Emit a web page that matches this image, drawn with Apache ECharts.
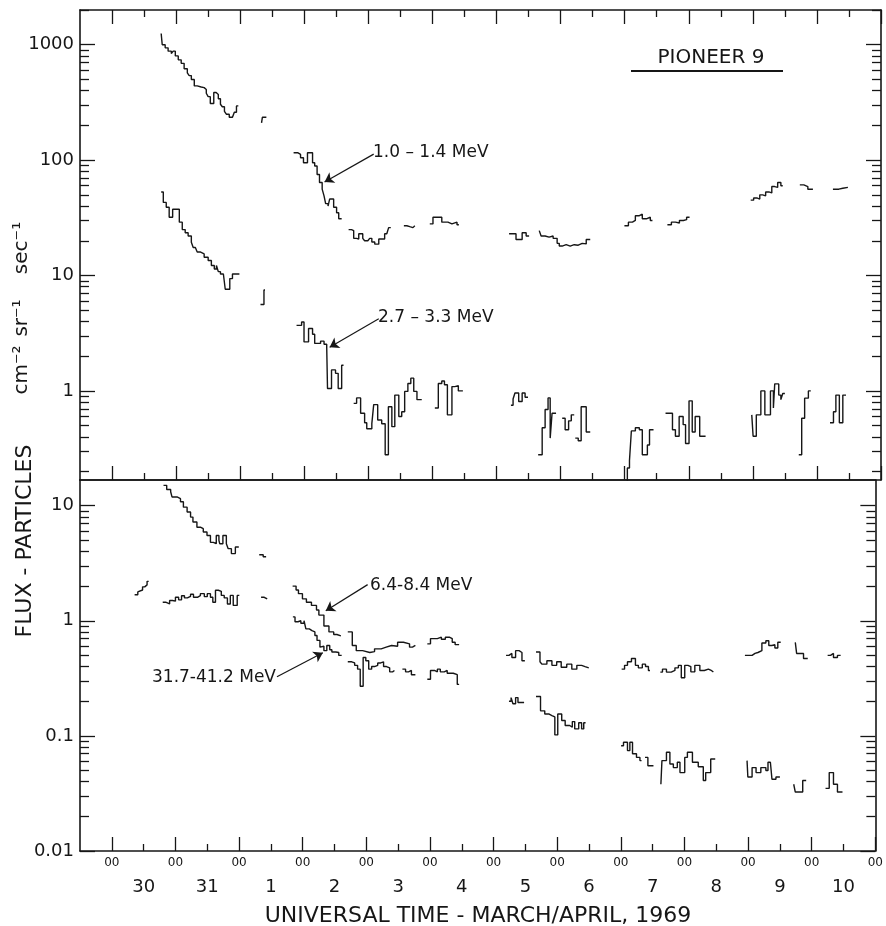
<!DOCTYPE html>
<html>
<head>
<meta charset="utf-8">
<title>Pioneer 9 - particle flux, March/April 1969</title>
<script src="https://cdn.jsdelivr.net/npm/echarts@6.0.0/dist/echarts.min.js"></script>
<style>
  html, body { margin: 0; padding: 0; background: #fff; }
  #flux_chart { width: 886px; height: 926px; }
</style>
</head>
<body>
<div id="flux_chart"></div>
<script>
// time is in hours from 00 UT, 30 March 1969; each segment is a run of
// [hour, flux] steps, the last pair closes the final step
const flux1to14 = [
  [[18.4,1250],[18.8,1000],[19.9,940],[21.0,880],[22.2,840],[22.9,880],[23.7,800],[24.8,740],[25.9,690],[27.0,620],[28.2,570],[28.9,540],[29.7,500],[30.8,440],[31.9,430],[33.4,425],[34.5,410],[35.3,380],[36.0,355],[36.8,310],[38.1,385],[39.0,370],[39.8,340],[40.6,305],[41.3,290],[42.1,265],[42.8,250],[43.9,235],[45.1,230],[45.8,260],[46.6,295],[47.3,295]],
  [[56.0,210],[56.3,235],[57.8,235]],
  [[68.0,116],[69.5,112],[70.6,105],[71.7,95],[73.2,116],[75.1,95],[75.9,89],[76.8,75],[77.7,64],[78.7,56],[79.4,49],[80.0,42],[80.9,40],[81.5,46],[83.0,39],[84.1,35],[84.9,31],[86.0,31]],
  [[88.6,25],[89.7,24.5],[90.5,21],[91.6,20.7],[92.4,23],[93.9,21],[94.6,20],[95.8,19.7],[96.5,21],[97.3,19.5],[98.4,18.7],[99.9,20.7],[102.1,23],[102.9,23.6],[103.6,26],[104.4,26]],
  [[109.3,27],[110.4,26.5],[111.5,26],[112.7,27],[113.4,27]],
  [[119.0,28],[120.2,32],[123.5,29],[125.8,28],[127.3,29],[129.2,27.5],[129.9,27.5]],
  [[148.7,23],[151.3,20.5],[153.6,23.5],[155.1,22],[156.2,22]],
  [[160.0,24.5],[160.7,22],[162.2,21.5],[163.7,22],[165.2,21],[166.7,19],[167.5,18],[168.6,18.5],[170.1,18],[171.6,18.5],[173.1,18.3],[174.6,19],[176.1,18.8],[177.6,20.5],[179.1,20.5]],
  [[191.9,27],[193.4,29],[194.9,30],[196.0,33],[197.5,34],[198.6,31],[200.1,32],[201.6,30],[202.4,30]],
  [[208.0,27.5],[209.5,29],[211.0,28.5],[212.5,30],[214.0,30.5],[215.2,32],[216.3,32]],
  [[239.2,45],[240.3,47],[241.5,46],[242.6,50],[243.7,49],[244.8,53],[246.0,52],[247.1,59],[248.2,58],[249.3,64],[250.5,60],[251.2,60]],
  [[257.6,61],[259.1,59],[260.6,56],[262.5,56]],
  [[270.0,56],[272.2,57],[273.7,58],[275.6,58]]
];

const flux27to33 = [
  [[18.4,53],[19.2,43],[20.3,39],[21.4,32],[22.7,37.5],[25.2,29],[26.3,25],[27.4,23.5],[28.5,22],[29.7,19.4],[30.4,17.5],[31.2,17],[31.9,16],[33.0,15.4],[34.5,14.4],[36.0,13.5],[37.2,12.2],[38.3,11.4],[39.1,12.2],[39.8,10.8],[40.6,10.3],[41.7,10],[42.4,7.6],[44.1,9.4],[45.1,10.3],[47.7,10.3]],
  [[55.6,5.6],[56.9,7.5],[57.3,7.5]],
  [[69.1,3.7],[71.0,3.96],[71.9,2.66],[73.6,3.47],[75.1,3.1],[75.9,2.58],[78.1,2.7],[79.4,2.54],[80.4,2.4],[80.7,1.05],[82.2,1.52],[83.7,1.42],[84.7,1.05],[86.0,1.67],[86.7,1.67]],
  [[90.5,0.78],[91.6,0.87],[93.1,0.64],[94.6,0.53],[95.4,0.47],[97.3,0.52],[98.0,0.76],[99.5,0.56],[101.0,0.52],[102.3,0.28],[103.5,0.73],[104.8,0.49],[105.9,0.92],[107.4,0.60],[108.5,0.66],[109.6,0.99],[110.8,1.16],[111.9,1.29],[113.0,0.99],[114.2,0.84],[116.0,0.84]],
  [[120.9,0.71],[122.2,1.16],[123.5,1.22],[124.5,1.13],[125.6,0.62],[127.3,1.09],[128.4,1.11],[129.7,1.0],[131.4,1.0]],
  [[149.4,0.75],[150.2,0.85],[150.9,0.96],[152.3,0.81],[153.6,0.96],[154.7,0.88],[155.8,0.88]],
  [[159.6,0.28],[161.1,0.48],[162.2,0.69],[163.3,0.87],[164.1,0.39],[164.8,0.64],[166.3,0.64]],
  [[168.6,0.58],[169.7,0.46],[171.0,0.55],[172.0,0.62],[173.1,0.62]],
  [[173.5,0.39],[174.6,0.37],[175.7,0.73],[177.6,0.44],[179.1,0.44]],
  [[191.9,0.15],[193.0,0.215],[193.8,0.25],[194.5,0.45],[196.0,0.48],[197.5,0.46],[198.6,0.28],[200.5,0.34],[201.3,0.46],[202.8,0.46]],
  [[207.3,0.64],[209.9,0.46],[211.0,0.405],[212.4,0.6],[213.9,0.51],[214.8,0.35],[216.1,0.82],[217.3,0.44],[218.4,0.6],[220.1,0.405],[222.3,0.405]],
  [[239.6,0.62],[240.1,0.405],[241.3,0.62],[243.0,1.0],[244.5,0.62],[246.6,1.0],[247.7,0.71],[248.2,1.15],[249.7,0.92],[250.5,0.84],[251.2,0.95],[252.0,0.95]],
  [[257.2,0.28],[258.3,0.58],[259.4,0.865],[260.8,1.0],[261.7,1.0]],
  [[268.9,0.53],[270.2,0.66],[271.1,0.92],[272.4,0.53],[273.7,0.92],[274.9,0.92]]
];

const flux64to84 = [
  [[19.5,15],[20.7,13.8],[22.2,13.2],[22.7,11.9],[24.6,11.5],[25.9,10.8],[27.0,9.7],[28.4,8.8],[29.7,7.95],[30.6,7.2],[32.1,6.5],[33.4,6.3],[34.5,5.9],[35.9,5.5],[37.2,4.8],[38.3,4.67],[39.4,5.5],[40.4,5.0],[40.7,4.67],[41.9,5.5],[43.2,4.67],[43.9,4.23],[45.1,3.83],[46.6,4.37],[47.9,4.37]],
  [[55.6,3.75],[57.1,3.6],[58.2,3.6]],
  [[68.2,2.0],[69.5,1.85],[70.4,1.72],[71.9,1.55],[73.4,1.45],[75.3,1.36],[77.2,1.24],[78.1,1.12],[80.0,0.9],[81.9,0.8],[83.7,0.76],[84.9,0.74],[86.4,0.74]],
  [[89.0,0.8],[90.7,0.61],[92.2,0.55],[94.6,0.53],[97.3,0.54],[99.1,0.57],[101.6,0.59],[103.5,0.61],[105.5,0.6],[107.8,0.65],[110.0,0.63],[112.3,0.59],[113.4,0.61],[114.5,0.61]],
  [[119.0,0.63],[120.2,0.70],[122.8,0.72],[124.3,0.69],[125.8,0.72],[127.3,0.70],[128.4,0.65],[129.5,0.62],[131.0,0.62]],
  [[148.7,0.50],[149.8,0.52],[150.9,0.48],[152.3,0.55],[153.6,0.53],[154.7,0.45],[155.8,0.45]],
  [[160.0,0.535],[161.5,0.44],[162.2,0.42],[164.1,0.45],[166.0,0.41],[167.8,0.44],[169.5,0.395],[171.6,0.42],[173.5,0.38],[175.4,0.41],[177.2,0.40],[178.5,0.39],[179.9,0.39]],
  [[192.3,0.38],[193.4,0.41],[194.5,0.44],[196.0,0.47],[197.5,0.41],[198.6,0.39],[200.1,0.42],[201.3,0.40],[202.4,0.37],[203.0,0.37]],
  [[206.9,0.358],[207.7,0.38],[209.2,0.358],[211.0,0.37],[212.4,0.39],[213.7,0.41],[214.8,0.32],[216.1,0.41],[217.3,0.40],[218.4,0.36],[219.9,0.41],[221.8,0.37],[223.5,0.38],[225.0,0.37],[226.1,0.36],[226.9,0.36]],
  [[238.8,0.50],[241.5,0.52],[242.6,0.53],[243.7,0.55],[245.2,0.64],[246.7,0.67],[247.8,0.61],[249.0,0.62],[250.1,0.58],[251.2,0.65],[252.3,0.65]],
  [[257.8,0.65],[258.3,0.52],[260.9,0.47],[262.5,0.47]],
  [[270.0,0.50],[271.1,0.52],[272.2,0.48],[273.7,0.50],[274.9,0.50]]
];

const flux317to412 = [
  [[8.6,1.68],[9.8,1.78],[10.5,1.85],[11.6,1.97],[12.4,2.05],[13.3,2.2],[13.9,2.2]],
  [[19.2,1.45],[20.3,1.40],[21.8,1.50],[22.9,1.48],[24.0,1.60],[25.2,1.52],[26.3,1.65],[27.4,1.58],[28.5,1.63],[29.7,1.70],[30.8,1.60],[32.3,1.65],[33.4,1.72],[34.9,1.62],[36.0,1.72],[37.2,1.60],[38.1,1.45],[39.1,1.84],[40.2,1.80],[41.3,1.66],[42.4,1.58],[43.6,1.40],[44.7,1.66],[45.8,1.36],[47.3,1.66],[48.1,1.66]],
  [[56.3,1.6],[57.5,1.55],[58.6,1.55]],
  [[68.3,1.08],[69.1,0.98],[70.2,1.00],[71.3,0.95],[72.5,1.00],[73.2,0.85],[74.5,0.82],[75.5,0.80],[76.6,0.745],[77.4,0.675],[78.5,0.59],[79.2,0.60],[80.0,0.55],[81.1,0.61],[82.2,0.56],[83.0,0.535],[84.5,0.53],[85.6,0.50],[86.7,0.50]],
  [[89.0,0.44],[90.5,0.43],[91.6,0.41],[92.7,0.38],[93.7,0.27],[94.8,0.48],[95.8,0.45],[96.9,0.38],[98.0,0.40],[99.1,0.41],[100.3,0.43],[101.4,0.44],[102.5,0.40],[103.6,0.39],[104.8,0.36],[105.9,0.37],[106.6,0.37]],
  [[109.6,0.38],[110.8,0.36],[111.9,0.37],[113.0,0.34],[114.5,0.34]],
  [[119.0,0.31],[120.2,0.37],[121.7,0.36],[122.8,0.38],[123.9,0.36],[125.4,0.37],[126.5,0.35],[128.8,0.34],[130.3,0.28],[131.0,0.28]],
  [[149.8,0.20],[150.6,0.215],[151.3,0.19],[152.3,0.215],[153.2,0.195],[155.5,0.195]],
  [[160.0,0.22],[161.7,0.165],[163.3,0.155],[164.8,0.15],[166.0,0.146],[167.1,0.102],[168.2,0.155],[169.7,0.136],[171.0,0.123],[172.7,0.119],[173.7,0.133],[174.6,0.115],[176.1,0.13],[177.2,0.115],[178.0,0.13],[178.7,0.13]],
  [[192.1,0.082],[193.0,0.088],[194.5,0.0745],[195.4,0.088],[196.4,0.07],[197.9,0.065],[199.2,0.061],[199.8,0.061]],
  [[201.1,0.065],[202.2,0.055],[204.3,0.055]],
  [[207.1,0.038],[207.5,0.061],[209.2,0.072],[210.5,0.057],[211.8,0.053],[213.3,0.059],[214.3,0.048],[216.1,0.065],[217.1,0.072],[219.0,0.059],[221.2,0.054],[223.1,0.041],[224.0,0.048],[225.9,0.063],[227.6,0.063]],
  [[239.6,0.061],[239.9,0.044],[241.5,0.053],[243.0,0.048],[244.8,0.053],[246.7,0.05],[247.5,0.059],[248.4,0.061],[249.0,0.042],[250.5,0.044],[252.0,0.044]],
  [[257.2,0.038],[257.8,0.0325],[260.6,0.041],[261.9,0.041]],
  [[269.2,0.035],[270.6,0.048],[272.2,0.038],[273.7,0.0325],[275.6,0.0325]]
];

const midnightHours = [0, 24, 48, 72, 96, 120, 144, 168, 192, 216, 240, 264, 288];
const noonHours = [12, 36, 60, 84, 108, 132, 156, 180, 204, 228, 252, 276];
const dayLabels = ['30', '31', '1', '2', '3', '4', '5', '6', '7', '8', '9', '10'];
const topDecades = [1, 10, 100, 1000];
const bottomDecades = [0.01, 0.1, 1, 10];

const INK = '#161616';
const FONT = '"DejaVu Sans", "Liberation Sans", sans-serif';

// one step line per band, with a break between the runs
function joinRuns(runs) {
    const out = [];
    runs.forEach(function (run, i) {
        if (i > 0) {
            const prev = runs[i - 1];
            out.push([prev[prev.length - 1][0], null]);
        }
        run.forEach(function (p) { out.push(p); });
    });
    return out;
}

function minorTicks(decades) {
    const out = [];
    decades.concat([decades[0] / 10]).forEach(function (d) {
        for (let k = 2; k <= 9; k++) out.push(+(d * k).toPrecision(3));
    });
    return out;
}

function timeAxis(gridIndex, position, ticks, len, label, lineShow) {
    return {
        type: 'value', gridIndex: gridIndex, position: position,
        min: -12, max: 288,
        axisLine: { show: lineShow, onZero: false, lineStyle: { color: INK, width: 1.6 } },
        axisTick: ticks ? { show: true, inside: true, length: len, customValues: ticks,
                            lineStyle: { color: INK, width: 1.3 } } : { show: false },
        axisLabel: label || { show: false },
        splitLine: { show: false }
    };
}

function fluxAxis(gridIndex, position, min, max, ticks, len, withLabels, lineShow) {
    return {
        type: 'log', logBase: 10, gridIndex: gridIndex, position: position,
        min: min, max: max,
        axisLine: { show: lineShow, onZero: false, lineStyle: { color: INK, width: 1.6 } },
        axisTick: { show: true, inside: true, length: len, customValues: ticks,
                    lineStyle: { color: INK, width: 1.3 } },
        axisLabel: withLabels ? {
            show: true, customValues: ticks, margin: 6,
            color: INK, fontFamily: FONT, fontSize: 18,
            formatter: function (v) { return String(v); }
        } : { show: false },
        minorTick: { show: false },
        splitLine: { show: false }
    };
}

function arrow(from, to) {
    return [{ coord: from, symbol: 'none' }, { coord: to, symbol: 'arrow' }];
}

function band(runs, xi, yi, arrows) {
    return {
        type: 'line', xAxisIndex: xi, yAxisIndex: yi,
        data: joinRuns(runs), step: 'end',
        symbol: 'none', showSymbol: false, connectNulls: false,
        lineStyle: { color: INK, width: 1.4 },
        markLine: {
            silent: true, symbolSize: 9, label: { show: false },
            lineStyle: { color: INK, width: 1.2, type: 'solid' },
            data: arrows
        }
    };
}

function vText(text, x, y, size) {
    return {
        type: 'text', x: x, y: y, rotation: Math.PI / 2,
        style: { text: text, x: 0, y: 0, align: 'center', verticalAlign: 'middle',
                 font: size + 'px ' + FONT, fill: INK }
    };
}

function hText(text, x, y, size, align) {
    return {
        type: 'text', x: x, y: y,
        style: { text: text, x: 0, y: 0, align: align || 'left', verticalAlign: 'middle',
                 font: size + 'px ' + FONT, fill: INK }
    };
}

const option = {
    animation: false,
    backgroundColor: '#fff',
    grid: [
        { left: 80, top: 10, width: 801, height: 470 },
        { left: 80, top: 480, width: 801, height: 371 }
    ],
    xAxis: [
        timeAxis(0, 'bottom', midnightHours, 14, null, true),
        timeAxis(0, 'bottom', noonHours, 7, null, false),
        timeAxis(0, 'top', midnightHours, 14, null, true),
        timeAxis(0, 'top', noonHours, 7, null, false),
        timeAxis(1, 'bottom', midnightHours, 14, {
            show: true, customValues: midnightHours, margin: 6,
            color: INK, fontFamily: FONT, fontSize: 12,
            formatter: function () { return '00'; }
        }, true),
        timeAxis(1, 'bottom', noonHours, 7, {
            show: true, customValues: noonHours, margin: 27,
            color: INK, fontFamily: FONT, fontSize: 18,
            formatter: function (v) { return dayLabels[Math.round((v - 12) / 24)]; }
        }, false),
        timeAxis(1, 'top', null, 0, null, true)
    ],
    yAxis: [
        fluxAxis(0, 'left', 0.169, 2000, topDecades, 15, true, true),
        fluxAxis(0, 'left', 0.169, 2000, minorTicks(topDecades), 9, false, false),
        fluxAxis(0, 'right', 0.169, 2000, topDecades, 15, false, true),
        fluxAxis(0, 'right', 0.169, 2000, minorTicks(topDecades), 9, false, false),
        fluxAxis(1, 'left', 0.01, 16.7, bottomDecades, 15, true, true),
        fluxAxis(1, 'left', 0.01, 16.7, minorTicks(bottomDecades), 9, false, false),
        fluxAxis(1, 'right', 0.01, 16.7, bottomDecades, 15, false, true),
        fluxAxis(1, 'right', 0.01, 16.7, minorTicks(bottomDecades), 9, false, false)
    ],
    series: [
        band(flux1to14, 0, 0, [arrow([98.0, 112.7], [79.6, 64.6])]),
        band(flux27to33, 0, 0, [arrow([99.9, 4.22], [81.5, 2.39])]),
        band(flux64to84, 4, 4, [arrow([96.5, 2.06], [80.7, 1.22])]),
        band(flux317to412, 4, 4, [arrow([62.3, 0.326], [79.6, 0.527])])
    ],
    graphic: { elements: [
        hText('PIONEER 9', 711, 58, 20, 'center'),
        { type: 'line', shape: { x1: 631, y1: 71, x2: 783, y2: 71 },
          style: { stroke: INK, lineWidth: 2 } },
        hText('1.0 – 1.4 MeV', 373, 153, 17),
        hText('2.7 – 3.3 MeV', 378, 318, 17),
        hText('6.4-8.4 MeV', 370, 586, 17),
        hText('31.7-41.2 MeV', 276, 678, 17, 'right'),
        hText('UNIVERSAL TIME - MARCH/APRIL, 1969', 478, 916, 22, 'center'),
        vText('FLUX - PARTICLES', 25, 541, 22),
        vText('cm⁻²', 22, 370, 20),
        vText('sr⁻¹', 22, 318, 20),
        vText('sec⁻¹', 22, 248, 20)
    ] }
};

const fluxChart = echarts.init(document.getElementById('flux_chart'));
fluxChart.setOption(option);

window.addEventListener('resize', function () {
    fluxChart.resize();
});
</script>
</body>
</html>
